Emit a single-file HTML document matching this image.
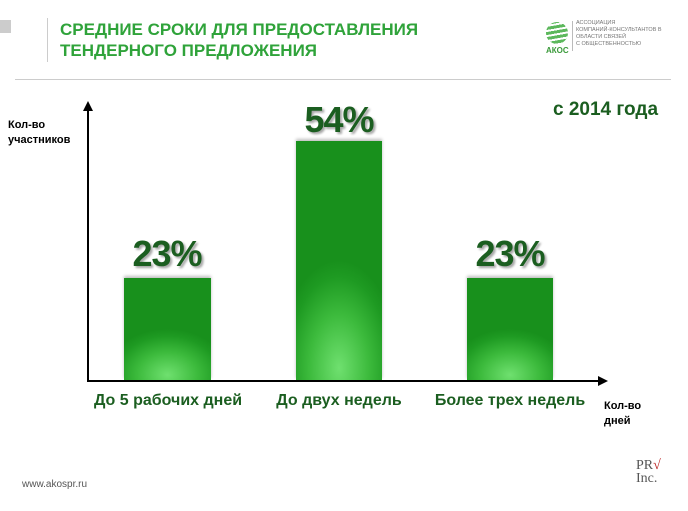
<!DOCTYPE html>
<html><head><meta charset="utf-8"><style>
body{margin:0;width:688px;height:511px;background:#fff;position:relative;overflow:hidden;font-family:"Liberation Sans",sans-serif}
.a{position:absolute}
.bar{position:absolute;background:radial-gradient(ellipse 70% 45% at 50% 95%,#6fe06f 0%,#3cba3c 50%,#1e9a22 85%,#18901c 100%);box-shadow:0 -2px 3px rgba(0,0,0,.25)}
.pct{position:absolute;color:#1b5e20;font-weight:bold;font-size:36px;text-align:center;text-shadow:2px 2px 2px rgba(0,0,0,.35);letter-spacing:-1px}
.cat{position:absolute;color:#1b5e20;font-weight:bold;font-size:16px;text-align:center}
.ax{position:absolute;font-weight:bold;font-size:11px;line-height:15px;color:#000}
</style></head><body>
<div class="a" style="left:0;top:20px;width:11px;height:13px;background:#ccc"></div>
<div class="a" style="left:47px;top:18px;width:1px;height:44px;background:#ccc"></div>
<div class="a" style="left:60px;top:19px;color:#2fa33a;font-size:17px;line-height:21px;font-weight:bold">СРЕДНИЕ СРОКИ ДЛЯ ПРЕДОСТАВЛЕНИЯ<br>ТЕНДЕРНОГО ПРЕДЛОЖЕНИЯ</div>
<div class="a" style="left:15px;top:79px;width:656px;height:1px;background:#ccc"></div>
<div class="a" style="left:546px;top:22px;width:22px;height:22px;border-radius:50%;background:repeating-linear-gradient(170deg,#5cb85c 0 3px,#fff 3px 5px)"></div>
<div class="a" style="left:546px;top:46px;color:#3a9a3a;font-size:8px;font-weight:bold">АКОС</div>
<div class="a" style="left:572px;top:21px;width:1px;height:30px;background:#bbb"></div>
<div class="a" style="left:576px;top:20px;font-size:5.5px;line-height:7px;color:#777">АССОЦИАЦИЯ<br>КОМПАНИЙ-КОНСУЛЬТАНТОВ В<br>ОБЛАСТИ СВЯЗЕЙ<br>С ОБЩЕСТВЕННОСТЬЮ</div>
<div class="ax" style="left:8px;top:118px">Кол-во<br>участников</div>
<div class="a" style="left:553px;top:99px;color:#1b5e20;font-weight:bold;font-size:19px">с 2014 года</div>
<svg class="a" style="left:0;top:0" width="688" height="511">
<line x1="88" y1="382" x2="88" y2="108" stroke="#000" stroke-width="2"/>
<polygon points="88,101 83,111 93,111" fill="#000"/>
<line x1="87" y1="381" x2="600" y2="381" stroke="#000" stroke-width="2"/>
<polygon points="608,381 598,376 598,386" fill="#000"/>
</svg>
<div class="bar" style="left:124px;top:278px;width:87px;height:102px"></div>
<div class="bar" style="left:296px;top:141px;width:86px;height:239px"></div>
<div class="bar" style="left:467px;top:278px;width:86px;height:102px"></div>
<div class="pct" style="left:117px;top:233px;width:100px">23%</div>
<div class="pct" style="left:289px;top:99px;width:100px">54%</div>
<div class="pct" style="left:460px;top:233px;width:100px">23%</div>
<div class="cat" style="left:78px;top:392px;width:180px">До 5 рабочих дней</div>
<div class="cat" style="left:249px;top:392px;width:180px">До двух недель</div>
<div class="cat" style="left:420px;top:392px;width:180px">Более трех недель</div>
<div class="ax" style="left:604px;top:399px">Кол-во<br>дней</div>
<div class="a" style="left:22px;top:479px;font-size:10px;color:#555">www.akospr.ru</div>
<div class="a" style="left:636px;top:459px;font-family:'Liberation Serif',serif;font-size:14px;line-height:13px;color:#555">PR<span style="color:#b22">√</span><br>Inc.</div>
</body></html>
